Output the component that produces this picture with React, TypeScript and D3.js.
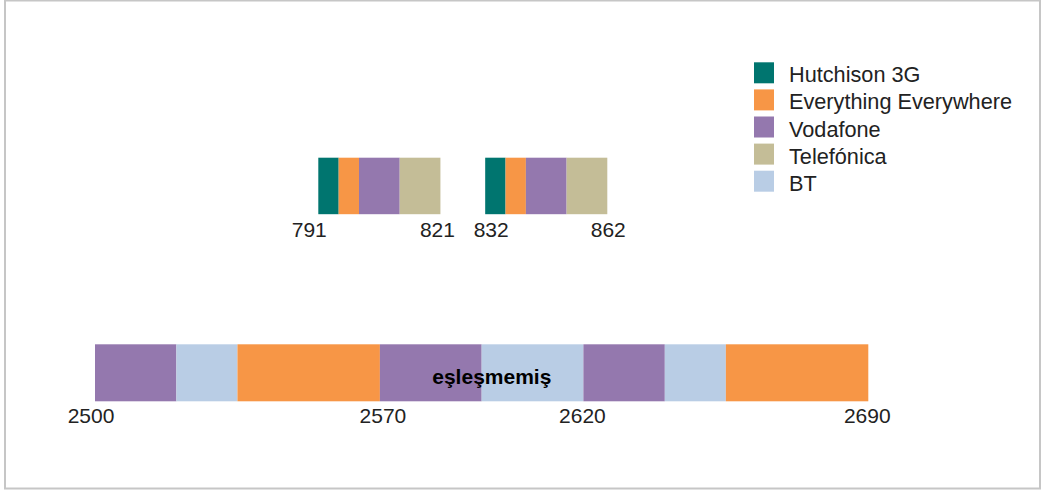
import * as d3 from "d3";

// operators and their legend colours
const operators = ["Hutchison 3G", "Everything Everywhere", "Vodafone", "Telefónica", "BT"];
const operatorColors = ["#00756F", "#F79646", "#9478AE", "#C4BD97", "#B9CDE5"];

// 800 MHz band (MHz)
const band800Start = [791, 796, 801, 811, 832, 837, 842, 852];
const band800End = [796, 801, 811, 821, 837, 842, 852, 862];
const band800Owner = ["Hutchison 3G", "Everything Everywhere", "Vodafone", "Telefónica", "Hutchison 3G", "Everything Everywhere", "Vodafone", "Telefónica"];
const band800Ticks = [791, 821, 832, 862];

// 2.6 GHz band (MHz)
const band2600Start = [2500, 2520, 2535, 2570, 2595, 2620, 2640, 2655];
const band2600End = [2520, 2535, 2570, 2595, 2620, 2640, 2655, 2690];
const band2600Owner = ["Vodafone", "BT", "Everything Everywhere", "Vodafone", "BT", "Vodafone", "BT", "Everything Everywhere"];
const band2600Ticks = [2500, 2570, 2620, 2690];
const unpairedLabel = "eşleşmemiş";
const unpairedAt = 2597.5;

const width = 1041;
const height = 490;
const font = "'Liberation Sans', Arial, sans-serif";

// small label nudges to sit like the original
const tickNudge: Record<number, number> = {
  791: -9, 821: -3, 832: 6, 862: 1,
  2500: -4, 2570: 3, 2620: -1, 2690: -1,
};

const App = () => {
  const color = d3.scaleOrdinal<string, string>().domain(operators).range(operatorColors);

  const x800 = d3.scaleLinear().domain([791, 862]).range([318.3, 607.3]);
  const x2600 = d3.scaleLinear().domain([2500, 2690]).range([95, 868.3]);

  const top800 = 157.7;
  const top2600 = 344.3;
  const barH = 56.5;

  const seg800 = band800Start.map((s, i) => ({ s, e: band800End[i], owner: band800Owner[i] }));
  const seg2600 = band2600Start.map((s, i) => ({ s, e: band2600End[i], owner: band2600Owner[i] }));

  return (
    <svg
      width={width}
      height={height}
      viewBox={`0 0 ${width} ${height}`}
      style={{ position: "absolute", left: 0, top: 0, fontFamily: font }}
    >
      <rect x={0} y={0} width={width} height={height} fill="#fff" />
      <rect x={5} y={0.5} width={1035} height={488} fill="none" stroke="#c6c6c6" strokeWidth={2} />

      <g className="band-800">
        {seg800.map((d, i) => (
          <rect
            key={i}
            x={x800(d.s)}
            y={top800}
            width={x800(d.e) - x800(d.s)}
            height={barH}
            fill={color(d.owner)}
          />
        ))}
        {band800Ticks.map((t) => (
          <text key={t} x={x800(t) + (tickNudge[t] || 0)} y={237} textAnchor="middle" fontSize={21} fill="#222">
            {t}
          </text>
        ))}
      </g>

      <g className="band-2600">
        {seg2600.map((d, i) => (
          <rect
            key={i}
            x={x2600(d.s)}
            y={top2600}
            width={x2600(d.e) - x2600(d.s)}
            height={barH + 0.5}
            fill={color(d.owner)}
          />
        ))}
        <text x={x2600(unpairedAt)} y={384} textAnchor="middle" fontSize={21} fontWeight="bold" fill="#000">
          {unpairedLabel}
        </text>
        {band2600Ticks.map((t) => (
          <text key={t} x={x2600(t) + (tickNudge[t] || 0)} y={422.5} textAnchor="middle" fontSize={21} fill="#222">
            {t}
          </text>
        ))}
      </g>

      <g className="legend">
        {operators.map((name, i) => (
          <g key={name} transform={`translate(754,${62.3 + i * 27.1})`}>
            <rect width={20} height={21} fill={color(name)} />
            <text x={35} y={20} fontSize={21.7} fill="#222">
              {name}
            </text>
          </g>
        ))}
      </g>
    </svg>
  );
};

export default App;
